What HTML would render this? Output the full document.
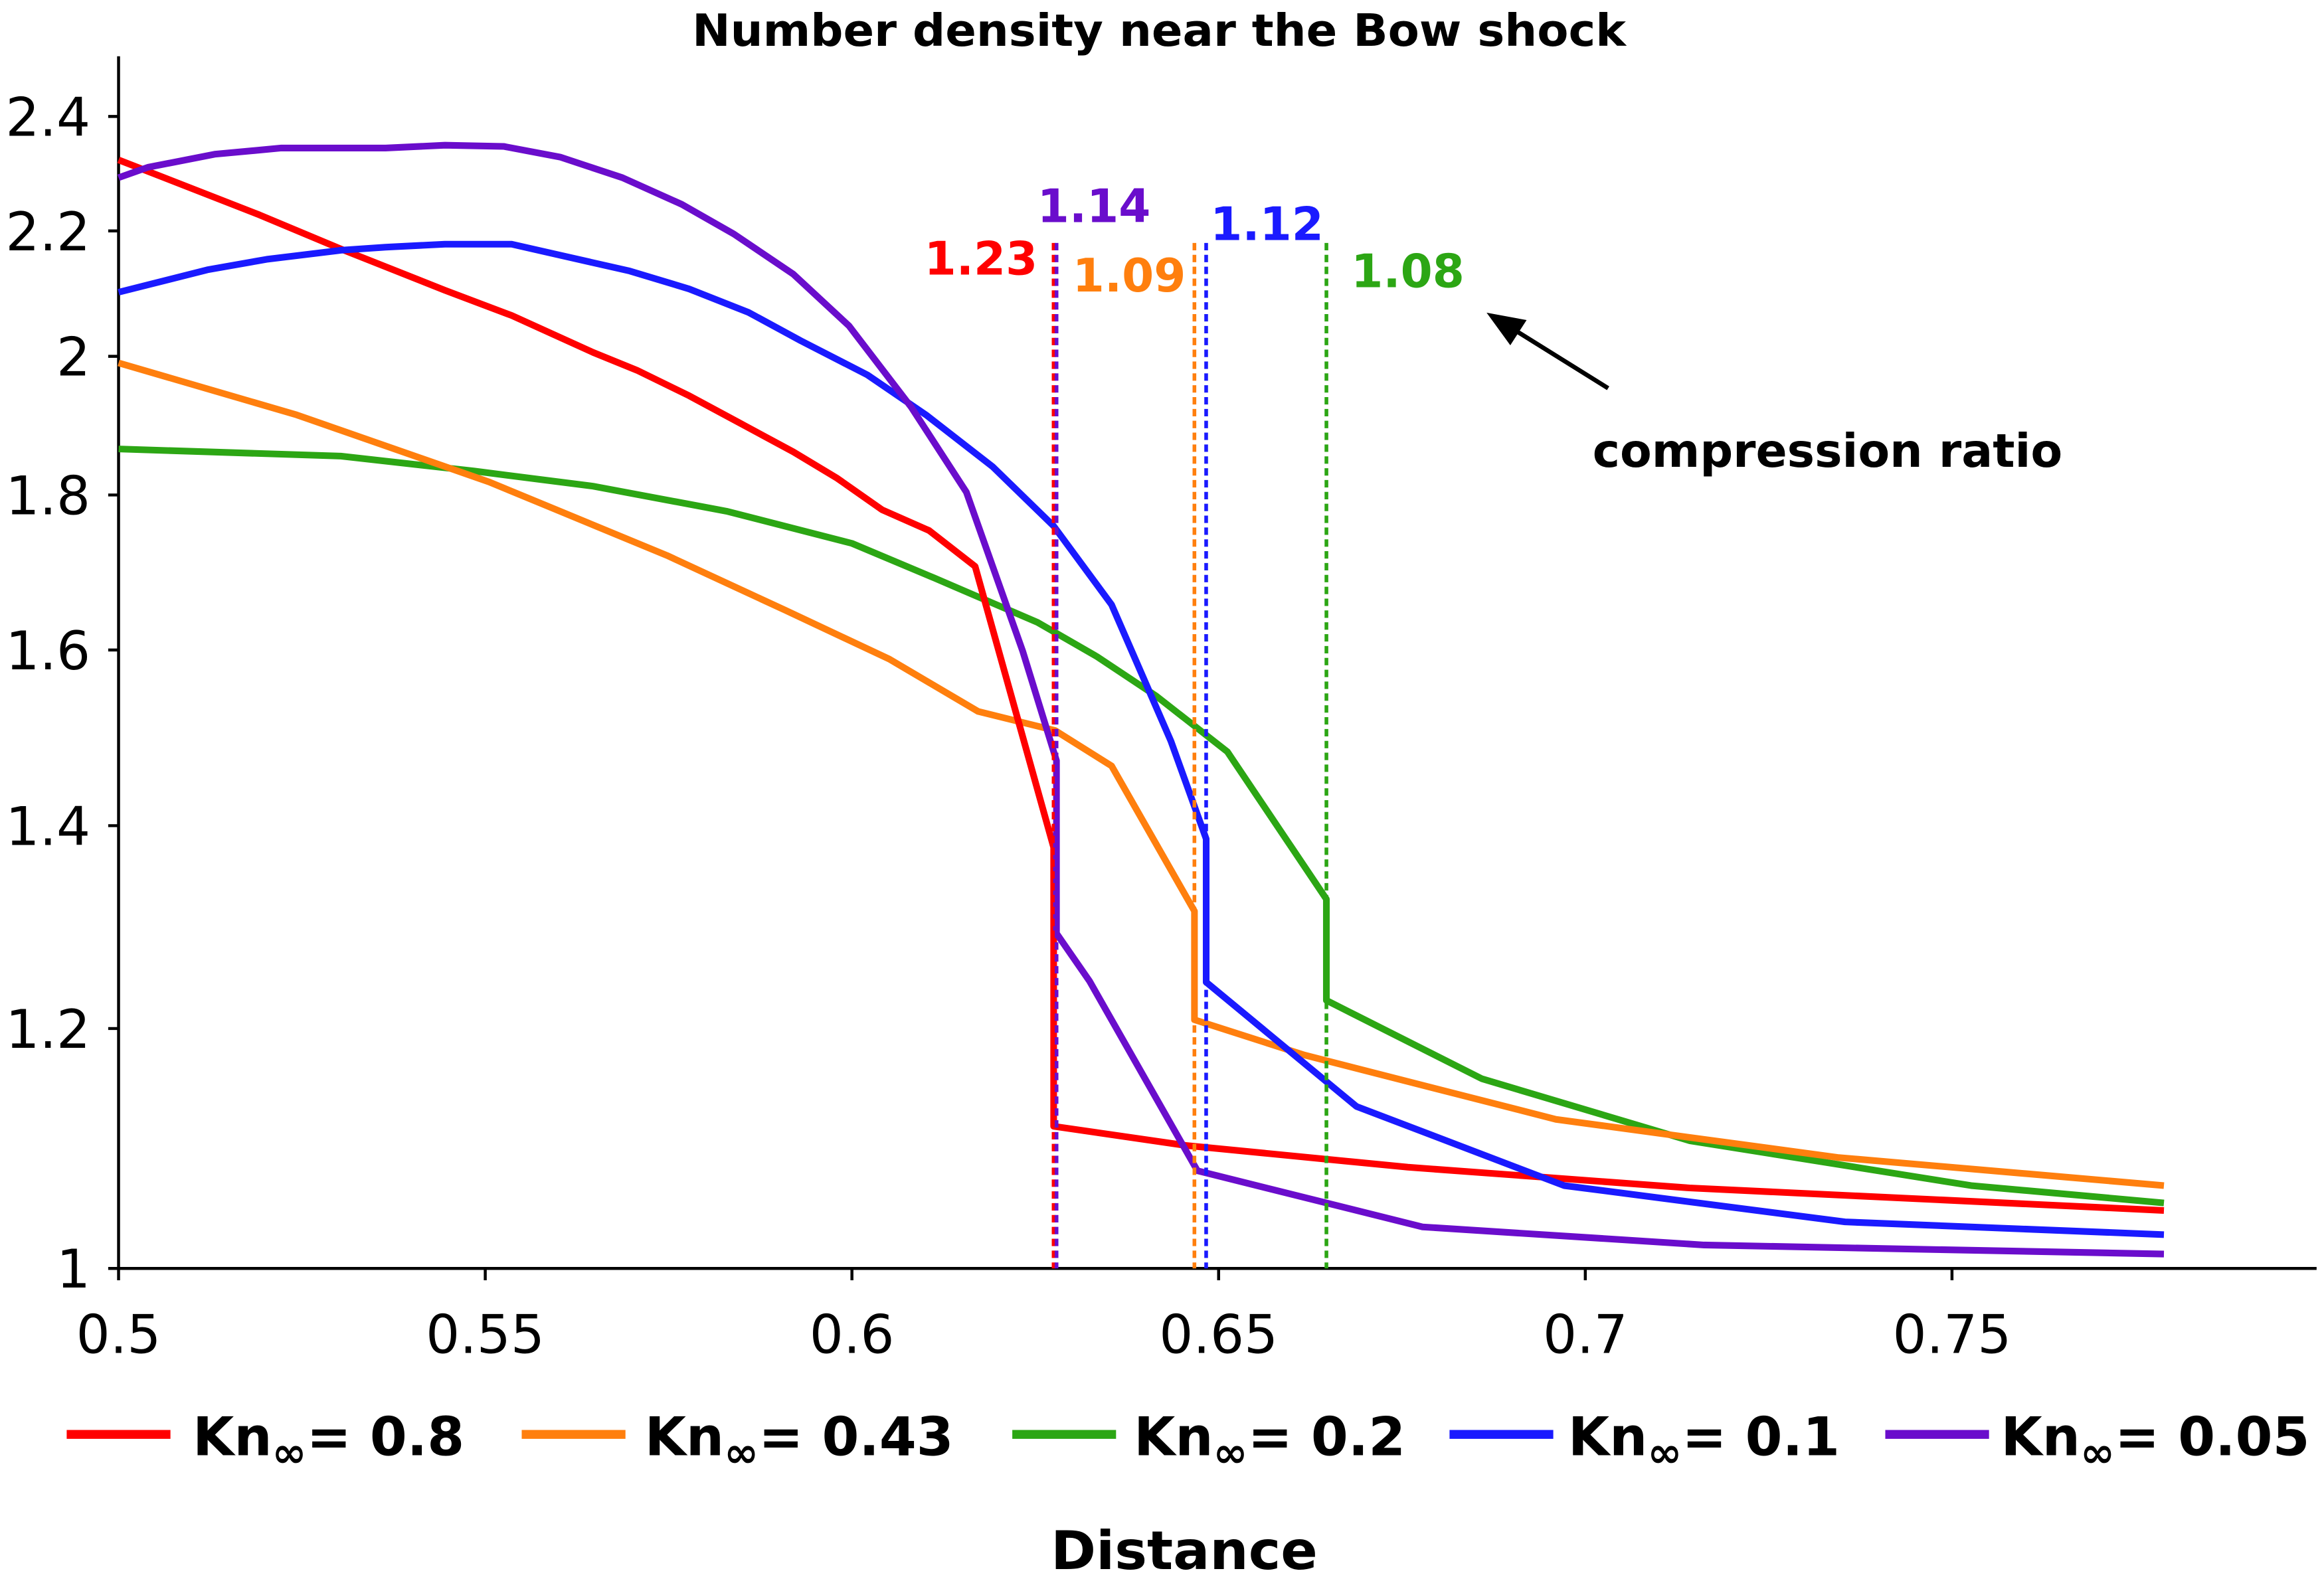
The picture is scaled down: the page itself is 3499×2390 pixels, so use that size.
<!DOCTYPE html>
<html><head><meta charset="utf-8"><style>
html,body{margin:0;padding:0;background:#fff;}
svg{display:block;}
text{font-family:"DejaVu Sans","Liberation Sans",sans-serif;}
</style></head><body>
<svg id="chart" width="3499" height="2390" viewBox="0 0 1568 1071" preserveAspectRatio="none" xmlns="http://www.w3.org/2000/svg">
<rect width="1568" height="1071" fill="#fff"/>
<text x="782" y="31" text-anchor="middle" font-size="30" font-weight="bold" textLength="630" lengthAdjust="spacingAndGlyphs">Number density near the Bow shock</text>
<g id="axes"></g>
<g id="series"></g>
<g id="annot"></g>
<text x="1233" y="315" text-anchor="middle" font-size="31" font-weight="bold" textLength="317" lengthAdjust="spacingAndGlyphs">compression ratio</text>
<line x1="1085" y1="262" x2="1016" y2="219" stroke="#000" stroke-width="3"/>
<polygon points="1003,211 1030,216 1019,233" fill="#000"/>
<text x="799" y="1059" text-anchor="middle" font-size="36" font-weight="bold" textLength="180" lengthAdjust="spacingAndGlyphs">Distance</text>
<g id="legend"></g>
</svg>
<script>
const xTicks=[0.5,0.55,0.6,0.65,0.7,0.75];
const xTickLabels=["0.5","0.55","0.6","0.65","0.7","0.75"];
const yTicks=[1,1.2,1.4,1.6,1.8,2,2.2,2.4];
const yTickLabels=["1","1.2","1.4","1.6","1.8","2","2.2","2.4"];
const seriesNames=["0.8","0.43","0.2","0.1","0.05"];
const seriesColors=["#ff0000","#ff7f0e","#2ca614","#1a1aff","#6a0dcc"];
const xRed=[.5,.5192,.5303,.5445,.5536,.5647,.5707,.5778,.5849,.5920,.5980,.6041,.6105,.6168,.6275,.6275,.6455,.6758,.7142,.7789];
const yRed=[2.322,2.227,2.170,2.103,2.063,2.006,1.979,1.941,1.900,1.860,1.823,1.780,1.752,1.705,1.377,1.114,1.098,1.080,1.063,1.045];
const xOrange=[.5,.5243,.5505,.5748,.5909,.6051,.6172,.6277,.6354,.6467,.6467,.6617,.6960,.7344,.7789];
const yOrange=[1.990,1.913,1.818,1.719,1.649,1.589,1.527,1.505,1.465,1.312,1.208,1.176,1.120,1.088,1.065];
const xGreen=[.5,.5303,.5485,.5647,.5829,.6,.6112,.6253,.6334,.6415,.6512,.6597,.6647,.6647,.6859,.7142,.7526,.7789];
const yGreen=[1.864,1.854,1.833,1.812,1.778,1.735,1.690,1.634,1.592,1.545,1.481,1.380,1.324,1.226,1.155,1.102,1.065,1.051];
const xBlue=[.5,.5121,.5202,.5303,.5364,.5445,.5536,.5697,.5778,.5859,.5930,.6021,.6101,.6192,.6275,.6354,.6435,.6483,.6483,.6688,.6971,.7354,.7789];
const yBlue=[2.100,2.136,2.153,2.168,2.173,2.178,2.178,2.134,2.105,2.068,2.024,1.972,1.913,1.839,1.758,1.656,1.493,1.386,1.243,1.131,1.065,1.036,1.026];
const xPurple=[.5,.504,.5131,.5222,.5364,.5445,.5525,.5602,.5687,.5768,.5839,.5920,.5996,.6081,.6156,.6233,.6279,.6279,.6324,.6471,.6778,.7162,.7789];
const yPurple=[2.291,2.309,2.332,2.343,2.343,2.348,2.346,2.327,2.291,2.245,2.195,2.129,2.047,1.924,1.804,1.598,1.471,1.290,1.244,1.077,1.032,1.018,1.011];
const shockX=[.6275,.6279,.6467,.6483,.6647];
const shockColors=["#ff0000","#6a0dcc","#ff7f0e","#1a1aff","#2ca614"];
const ratioLabels=["1.23","1.14","1.09","1.12","1.08"];
const ratioLabelX=[.6176,.6330,.6378,.6566,.6758];
const ratioLabelY=[2.128,2.215,2.101,2.185,2.108];
const shockTop=2.18;

const NS="http://www.w3.org/2000/svg";
const X=v=>80+(v-0.5)*4948;
const Y=v=>856-Math.log(v)*888;
function mk(tag,attrs,parent,txt){const e=document.createElementNS(NS,tag);for(const k in attrs)e.setAttribute(k,attrs[k]);if(txt!==undefined)e.textContent=txt;parent.appendChild(e);return e;}
const axes=document.getElementById('axes');
let a=mk('line',{x1:80,y1:38,x2:80,y2:857,stroke:'#000','stroke-width':2},axes);


a=mk('line',{x1:79,y1:856,x2:1563,y2:856,stroke:'#000','stroke-width':2},axes);


xTicks.forEach((t,i)=>{
  const tk=mk('line',{x1:X(t),y1:856,x2:X(t),y2:864,stroke:'#000','stroke-width':2},axes);
  
  
  const l=mk('text',{x:X(t),y:913,'text-anchor':'middle','font-size':36},axes,xTickLabels[i]);
  
  
});
yTicks.forEach((t,i)=>{
  const tk=mk('line',{x1:73,y1:Y(t),x2:80,y2:Y(t),stroke:'#000','stroke-width':2},axes);
  
  
  const l=mk('text',{x:61,y:Y(t)+13,'text-anchor':'end','font-size':36},axes,yTickLabels[i]);
  
  
});
const annot=document.getElementById('annot');
shockX.forEach((s,i)=>{
  const d=mk('line',{x1:X(s),y1:Y(shockTop),x2:X(s),y2:856,stroke:shockColors[i],'stroke-width':2.5,'stroke-dasharray':'5,3'},annot);
  
  
});
ratioLabels.forEach((r,i)=>{
  const t=mk('text',{x:X(ratioLabelX[i]),y:Y(ratioLabelY[i]),'text-anchor':'middle','font-size':31,'font-weight':'bold',fill:shockColors[i]},annot,r);
  
  
});
const sg=document.getElementById('series');
const allX=[xRed,xOrange,xGreen,xBlue,xPurple],allY=[yRed,yOrange,yGreen,yBlue,yPurple];
[2,1,0,3,4].forEach(i=>{
  const pts=allX[i].map((x,j)=>X(x).toFixed(1)+','+Y(allY[i][j]).toFixed(1)).join(' ');
  const p=mk('polyline',{points:pts,fill:'none',stroke:seriesColors[i],'stroke-width':4.5,'stroke-linejoin':'round'},sg);
  
  
});
const lg=document.getElementById('legend');
const legLine=[45,352,683,978,1272],legText=[130,435,765,1058,1350];
seriesNames.forEach((n,i)=>{
  const g=mk('g',{},lg);
  
  
  mk('line',{x1:legLine[i],y1:968,x2:legLine[i]+70,y2:968,stroke:seriesColors[i],'stroke-width':6},g);
  const t=mk('text',{x:legText[i],y:982,'font-size':36,'font-weight':'bold'},g);
  t.appendChild(document.createTextNode('Kn'));
  mk('tspan',{'font-size':28,dy:8},t,'∞');
  mk('tspan',{dy:-8},t,'= '+n);
});
</script>
</body></html>
